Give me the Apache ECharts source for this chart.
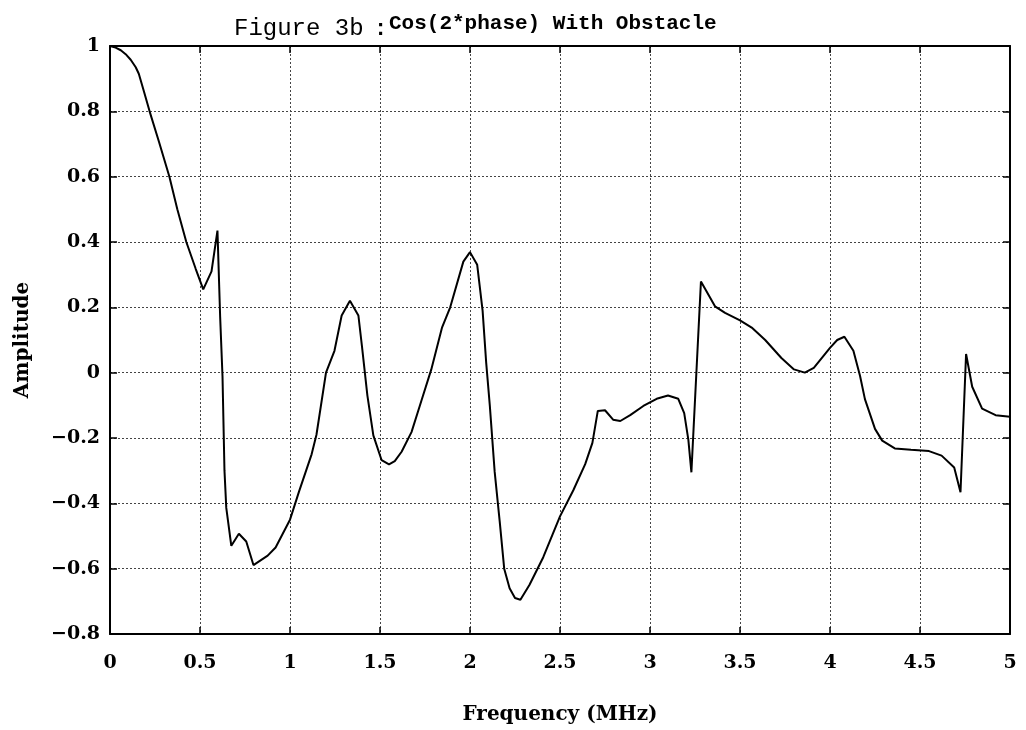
<!DOCTYPE html>
<html>
<head>
<meta charset="utf-8">
<title>Figure 3b</title>
<script src="https://cdn.jsdelivr.net/npm/echarts@6/dist/echarts.min.js"></script>
<style>
    html, body { margin: 0; padding: 0; background: #fff; }
    #chart { width: 1026px; height: 730px; }
</style>
</head>
<body>
<div id="chart"></div>
<script>
// frequency (MHz)
var freq = [0, 0.031, 0.06, 0.087, 0.115, 0.143, 0.16, 0.189, 0.22, 0.272, 0.33, 0.374, 0.424, 0.476, 0.518, 0.564, 0.597,
    0.612, 0.625, 0.636, 0.646, 0.674, 0.716, 0.757, 0.797, 0.876, 0.92, 1.0, 1.05, 1.12, 1.147, 1.2,
    1.247, 1.287, 1.333, 1.38, 1.40, 1.43, 1.463, 1.509, 1.55, 1.582, 1.62, 1.675, 1.73, 1.785, 1.845,
    1.89, 1.963, 2.0, 2.04, 2.07, 2.09, 2.11, 2.137, 2.165, 2.19, 2.22, 2.25, 2.28, 2.33, 2.407, 2.5,
    2.574, 2.64, 2.68, 2.71, 2.75, 2.795, 2.835, 2.89, 2.963, 3.037, 3.1, 3.157, 3.19, 3.213, 3.23,
    3.283, 3.361, 3.417, 3.5, 3.565, 3.64, 3.73, 3.8, 3.86, 3.91, 4.0, 4.04, 4.08, 4.13, 4.167, 4.194,
    4.25, 4.29, 4.36, 4.45, 4.55, 4.62, 4.69, 4.725, 4.756, 4.79, 4.845, 4.92, 5.0];
// amplitude of cos(2*phase)
var amp = [1.0, 0.995, 0.987, 0.975, 0.958, 0.935, 0.915, 0.86, 0.8, 0.707, 0.6, 0.5, 0.4, 0.318, 0.255, 0.31, 0.435,
    0.17, -0.01, -0.3, -0.414, -0.53, -0.493, -0.517, -0.589, -0.56, -0.535, -0.45, -0.364, -0.25, -0.19, 0.0,
    0.067, 0.175, 0.22, 0.175, 0.08, -0.07, -0.192, -0.268, -0.281, -0.271, -0.242, -0.182, -0.086, 0.01, 0.139,
    0.2, 0.34, 0.369, 0.33, 0.19, 0.03, -0.1, -0.303, -0.455, -0.6, -0.66, -0.69, -0.695, -0.65, -0.565, -0.44,
    -0.36, -0.28, -0.215, -0.117, -0.115, -0.144, -0.148, -0.13, -0.102, -0.08, -0.07, -0.08, -0.124, -0.205, -0.305,
    0.279, 0.203, 0.183, 0.16, 0.138, 0.1, 0.045, 0.01, 0.0, 0.015, 0.076, 0.1, 0.11, 0.067, -0.01, -0.081,
    -0.172, -0.208, -0.232, -0.236, -0.24, -0.254, -0.29, -0.366, 0.057, -0.043, -0.11, -0.13, -0.135];

(function() {
    var myChart = echarts.init(document.getElementById("chart"));

    var points = freq.map(function(f, i) {
        return [f, amp[i]];
    });

    var tickFont = {
        color: "#000",
        fontFamily: "DejaVu Serif",
        fontWeight: "bold",
        fontSize: 19
    };
    var nameFont = {
        color: "#000",
        fontFamily: "DejaVu Serif",
        fontWeight: "bold",
        fontSize: 20
    };
    // minus sign like the print
    function fmt(v) {
        return String(v).replace("-", "\u2212");
    }
    var dotted = { show: true, lineStyle: { color: "#444", type: [2, 2], width: 1 } };
    var frame = { show: true, onZero: false, lineStyle: { color: "#000", width: 2 } };
    var ticks = { show: true, inside: true, length: 7, lineStyle: { color: "#000", width: 1.5 } };

    myChart.setOption({
        animation: false,
        backgroundColor: "#fff",
        title: [{
            text: "Figure 3b",
            left: 229,
            top: 12,
            textStyle: { fontFamily: "Liberation Mono", fontWeight: "normal", fontSize: 24, color: "#000" }
        }, {
            text: ":",
            left: 369,
            top: 13,
            textStyle: { fontFamily: "Liberation Mono", fontWeight: "bold", fontSize: 22, color: "#000" }
        }, {
            text: "Cos(2*phase) With Obstacle",
            left: 384,
            top: 8,
            textStyle: { fontFamily: "Liberation Mono", fontWeight: "bold", fontSize: 21, color: "#000" }
        }],
        // fixed plot box, do not shrink for the labels
        grid: {
            left: 110,
            top: 46,
            width: 900,
            height: 588,
            outerBoundsMode: "none"
        },
        xAxis: [{
            type: "value",
            min: 0,
            max: 5,
            interval: 0.5,
            name: "Frequency (MHz)",
            nameLocation: "middle",
            nameGap: 71,
            nameTextStyle: nameFont,
            axisLine: frame,
            axisTick: ticks,
            axisLabel: Object.assign({ margin: 20, formatter: fmt }, tickFont),
            splitLine: dotted
        }, {
            type: "value",
            position: "top",
            min: 0,
            max: 5,
            interval: 0.5,
            axisLine: frame,
            axisTick: ticks,
            axisLabel: { show: false },
            splitLine: { show: false }
        }],
        yAxis: [{
            type: "value",
            min: -0.8,
            max: 1,
            interval: 0.2,
            name: "Amplitude",
            nameLocation: "middle",
            nameGap: 77,
            nameTextStyle: nameFont,
            axisLine: frame,
            axisTick: ticks,
            axisLabel: Object.assign({ margin: 10, formatter: fmt }, tickFont),
            splitLine: dotted
        }, {
            type: "value",
            position: "right",
            min: -0.8,
            max: 1,
            interval: 0.2,
            axisLine: frame,
            axisTick: ticks,
            axisLabel: { show: false },
            splitLine: { show: false }
        }],
        series: [{
            type: "line",
            data: points,
            showSymbol: false,
            smooth: false,
            lineStyle: { color: "#000", width: 2 }
        }]
    });
})();
</script>
</body>
</html>
